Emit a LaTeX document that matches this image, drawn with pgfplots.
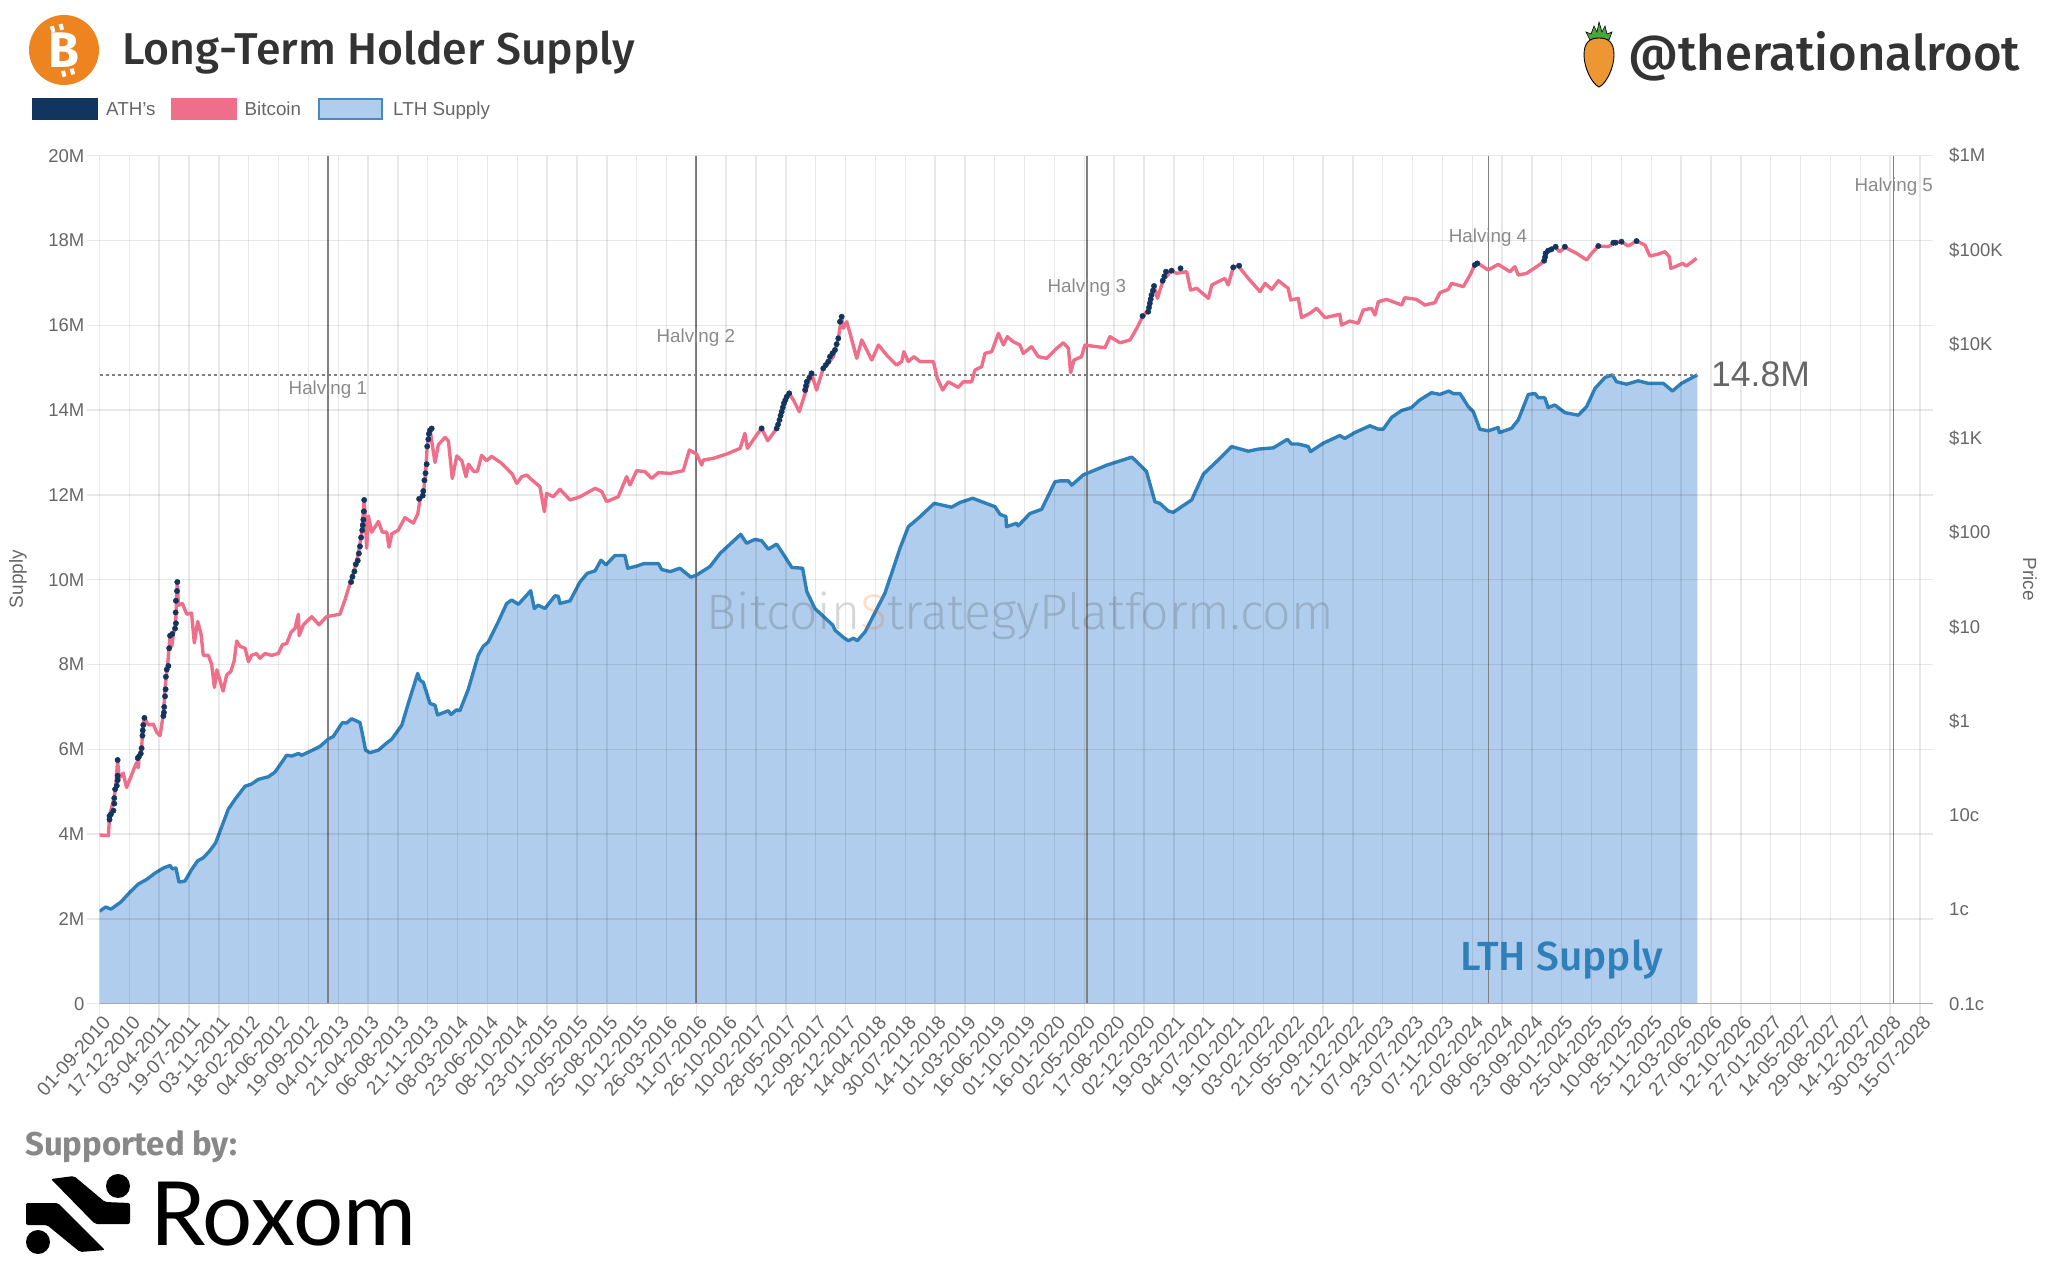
\documentclass[border=0pt]{standalone}
\usepackage{graphicx}
\usepackage{fontspec}
\usepackage{pgfplots}
\usepackage{pgfplotstable}
\pgfplotsset{compat=1.18}
\setmainfont{Liberation Sans}
\newfontfamily\ubm{Fira Sans Medium}
\newfontfamily\ubb{Fira Sans}
\newfontfamily\ubl{Fira Sans Light}
\newfontfamily\rox{Lato}
\definecolor{ath}{HTML}{12355F}
\definecolor{btc}{HTML}{EF6F8A}
\definecolor{lthl}{HTML}{2F7FB8}
\definecolor{lthf}{HTML}{B0CDEE}
\definecolor{tick}{HTML}{666666}
\definecolor{halv}{HTML}{808080}
\definecolor{hlab}{HTML}{8A8A8A}
\definecolor{dark}{HTML}{333333}
\definecolor{btclogo}{HTML}{EE8420}
\definecolor{leaf}{HTML}{4CA53C}
\definecolor{carrot}{HTML}{EC9634}
\definecolor{axln}{HTML}{AAAAAA}
\definecolor{supp}{HTML}{888888}
\pgfplotstableread{
d m
0 2.18
22 2.28
41 2.23
77 2.40
109 2.63
139 2.82
169 2.93
199 3.08
229 3.20
253 3.26
261 3.18
274 3.20
285 2.87
306 2.89
330 3.16
352 3.37
372 3.44
396 3.61
416 3.79
438 4.17
462 4.59
486 4.82
522 5.13
545 5.18
569 5.29
605 5.35
629 5.46
671 5.86
689 5.84
713 5.90
725 5.86
761 5.97
791 6.07
820 6.24
838 6.30
871 6.63
886 6.62
904 6.72
934 6.63
944 6.32
954 5.98
970 5.92
1000 5.98
1030 6.15
1048 6.24
1084 6.57
1107 7.08
1141 7.79
1149 7.63
1161 7.58
1185 7.08
1203 7.04
1212 6.81
1251 6.91
1260 6.82
1280 6.93
1292 6.91
1322 7.41
1358 8.22
1376 8.43
1394 8.53
1430 9.01
1460 9.44
1478 9.52
1502 9.42
1546 9.74
1559 9.32
1573 9.40
1597 9.32
1633 9.62
1645 9.61
1651 9.44
1687 9.50
1723 9.95
1749 10.15
1777 10.21
1798 10.46
1816 10.35
1848 10.57
1884 10.57
1894 10.27
1926 10.32
1952 10.38
2004 10.38
2016 10.24
2046 10.19
2081 10.27
2120 10.06
2141 10.11
2189 10.31
2225 10.62
2299 11.07
2320 10.86
2350 10.95
2374 10.92
2398 10.72
2428 10.84
2458 10.54
2482 10.29
2521 10.27
2536 9.72
2565 9.32
2629 8.93
2637 8.81
2667 8.64
2685 8.56
2703 8.62
2717 8.56
2745 8.77
2816 9.68
2858 10.50
2870 10.74
2900 11.25
2936 11.45
2993 11.80
3055 11.71
3085 11.82
3131 11.92
3211 11.72
3229 11.54
3250 11.49
3252 11.25
3288 11.33
3294 11.27
3336 11.56
3378 11.66
3426 12.31
3444 12.33
3474 12.33
3486 12.23
3527 12.47
3611 12.70
3701 12.89
3713 12.82
3754 12.55
3784 11.84
3802 11.80
3832 11.62
3850 11.59
3916 11.88
3958 12.49
4017 12.86
4059 13.14
4119 13.03
4155 13.08
4209 13.11
4259 13.31
4274 13.20
4298 13.20
4334 13.14
4342 13.02
4388 13.22
4447 13.40
4465 13.33
4501 13.47
4555 13.63
4585 13.55
4603 13.55
4633 13.83
4669 13.99
4704 14.06
4734 14.24
4776 14.41
4806 14.37
4838 14.45
4854 14.39
4878 14.39
4908 14.08
4926 13.96
4949 13.55
4979 13.51
5015 13.59
5019 13.47
5063 13.57
5087 13.77
5123 14.37
5147 14.39
5159 14.29
5182 14.29
5194 14.06
5218 14.12
5254 13.94
5302 13.88
5332 14.08
5362 14.51
5398 14.77
5425 14.83
5439 14.67
5475 14.61
5517 14.69
5553 14.63
5607 14.63
5640 14.45
5672 14.63
5729 14.83
}\lth
\pgfplotstableread{
d p
0 0.0618
32 0.0607
36 0.098
53 0.158
58 0.197
65 0.386
70 0.245
85 0.28
97 0.197
115 0.268
133 0.363
139 0.319
142 0.42
151 0.515
155 0.83
161 1.08
175 0.91
193 0.925
205 0.76
217 0.70
229 1.18
237 2.59
244 3.84
253 8.05
259 6.2
265 8.4
273 10.9
279 29.8
283 16.9
297 17.7
313 13.6
330 14
340 6.76
352 11.4
364 8.4
372 4.98
390 4.98
402 4.0
412 2.27
421 3.5
428 2.95
443 2.08
456 3.08
471 3.36
483 4.37
492 7.06
504 6.2
522 5.93
534 4.26
545 4.98
563 5.2
575 4.64
593 5.2
617 4.98
641 5.2
656 6.47
671 6.65
687 8.79
701 9.6
713 13.6
716 8.05
731 10.5
761 12.8
787 10.5
814 12.8
862 13.6
880 19.3
898 28.6
916 42.3
928 60
940 96.9
949 222
958 68.4
964 150
976 101
1000 131
1014 101
1030 101
1038 70
1048 97
1071 106
1095 144
1125 126
1141 157
1149 222
1161 253
1169 427
1175 822
1185 1273
1191 938
1203 555
1215 859
1239 1023
1251 938
1265 375
1281 650
1299 580
1314 392
1323 532
1341 447
1355 447
1370 661
1388 580
1406 644
1442 543
1478 425
1496 333
1514 392
1532 408
1544 376
1579 307
1595 167
1603 261
1627 240
1651 288
1687 222
1723 240
1777 295
1801 272
1818 213
1860 240
1890 392
1902 320
1926 454
1956 443
1980 376
2004 433
2046 425
2093 454
2115 752
2141 682
2159 521
2165 589
2201 614
2249 682
2297 783
2314 1130
2323 783
2356 1085
2374 1276
2396 944
2422 1205
2428 1276
2452 2168
2473 3006
2488 2553
2509 1919
2530 3006
2553 4898
2571 3258
2595 5534
2613 6252
2631 7362
2649 11510
2661 19540
2667 14720
2679 17300
2691 13010
2715 7063
2733 11070
2769 6780
2793 9795
2822 7674
2858 6000
2876 6516
2884 8318
2900 6516
2920 7362
2942 6516
2990 6516
3004 4335
3023 3258
3043 3983
3079 3476
3097 3983
3127 3983
3139 5309
3163 5754
3175 7980
3199 8318
3223 13010
3241 9795
3255 11990
3276 10620
3300 9795
3312 7980
3342 9397
3366 7362
3396 7063
3432 9016
3456 10350
3474 9016
3482 4977
3494 6780
3521 7362
3533 9795
3557 9550
3605 9162
3623 11990
3659 10350
3695 11070
3719 14720
3740 19540
3760 23010
3781 41400
3793 30620
3814 47970
3844 60250
3862 56400
3898 58750
3912 37500
3934 39100
3976 30620
3988 42460
4035 49890
4047 42460
4065 65310
4083 67450
4119 49890
4161 36060
4179 44160
4203 38110
4227 47100
4262 39100
4271 29380
4298 30620
4310 19100
4340 21230
4364 23990
4394 19100
4447 20700
4453 15960
4483 17580
4513 16630
4531 23010
4561 23990
4573 20370
4585 28180
4615 29850
4669 26000
4680 31120
4722 29850
4752 26000
4788 27540
4806 35160
4836 38110
4848 44160
4890 40740
4914 54100
4931 69180
4943 71950
4979 61240
5015 70310
5057 58750
5075 66370
5087 54100
5117 56400
5170 71950
5182 79430
5191 95720
5218 108100
5236 95720
5254 106400
5296 92040
5332 78160
5350 92040
5374 110000
5410 108100
5433 119400
5457 122200
5481 110000
5511 124200
5541 112700
5559 86100
5589 90360
5613 95720
5628 84720
5634 63680
5655 67450
5676 71950
5690 67450
5726 81280
}\price
\pgfplotstableread{
d p
36 0.0899
36 0.098
41 0.1025
50 0.112
53 0.133
53 0.152
56 0.189
62 0.206
65 0.235
65 0.263
65 0.386
137 0.404
142 0.422
148 0.452
151 0.515
154 0.70
155 0.796
157 0.908
161 1.08
229 1.13
231 1.23
232 1.41
235 1.83
237 2.17
238 2.95
241 3.52
247 3.84
250 5.93
253 8.05
261 8.41
271 9.6
274 10.9
273 14.2
274 18.9
278 24
279 29.9
902 29.9
907 34
914 38.7
919 46.1
926 50.4
930 60
934 71.4
938 88.7
942 106
944 120
946 137
948 168
949 222
1146 228
1159 247
1161 276
1165 359
1169 427
1173 532
1175 822
1179 979
1181 1117
1185 1218
1191 1273
2374 1276
2428 1276
2433 1400
2438 1566
2442 1740
2446 1919
2450 2130
2454 2355
2459 2550
2464 2767
2473 3006
2530 3258
2533 3600
2536 3993
2545 4400
2553 4898
2595 5534
2604 6000
2613 6516
2619 7362
2628 8000
2637 8670
2643 10000
2649 11510
2655 17300
2661 19540
3740 19870
3760 22080
3763 24500
3766 27100
3769 30000
3772 33200
3777 37000
3781 41400
3812 47100
3818 52500
3824 58750
3844 60250
3876 63700
4065 65310
4086 68000
4931 69180
4940 71950
5180 76900
5183 84000
5185 92040
5194 98200
5206 101400
5221 108100
5254 108100
5374 110000
5428 119400
5436 119400
5457 122200
5511 124200
}\athpts
\begin{document}
\begin{tikzpicture}
\path[use as bounding box] (0,0) rectangle (2050pt,1280pt);
\begin{scope}[x=1pt,y=1pt]
% ---------- header
\fill[btclogo] (64,1230) circle (35pt);
\begin{scope}[rotate around={14:(64,1230)}]
\node[text=white,font=\ubb\bfseries\fontsize{50}{50}\selectfont,inner sep=0] at (64,1230) {B};
\fill[white] (56,1250) rectangle (60,1256);
\fill[white] (65,1250) rectangle (69,1256);
\fill[white] (56,1204) rectangle (60,1210);
\fill[white] (65,1204) rectangle (69,1210);
\end{scope}
\node[anchor=base west,inner sep=0,text=dark] at (122,1215.5) {\resizebox{513pt}{!}{\ubm\fontsize{41}{41}\selectfont Long-Term Holder Supply}};
\node[anchor=base west,inner sep=0,text=dark] at (1628,1209) {\resizebox{392pt}{!}{\ubm\fontsize{46}{46}\selectfont @therationalroot}};
% carrot
\fill[fill=leaf,draw=black,line width=.6] (1590,1240) -- (1586,1248) -- (1591,1246) -- (1594,1254) -- (1597,1248) -- (1599,1258) -- (1602,1248) -- (1605,1254) -- (1607,1246) -- (1612,1248) -- (1609,1240) -- cycle;
\fill[fill=carrot,draw=black,line width=.9] (1584,1225) .. controls (1584,1238) and (1590,1242) .. (1599,1242) .. controls (1608,1242) and (1614,1238) .. (1614,1225) .. controls (1614,1212) and (1606,1196) .. (1599,1193) .. controls (1592,1196) and (1584,1212) .. (1584,1225) -- cycle;
% legend
\fill[ath] (32,1160) rectangle (98,1182);
\fill[btc] (170.5,1160) rectangle (236.5,1182);
\fill[lthf,draw=lthl!90!white,line width=2.4] (319,1161) rectangle (382,1181);
\begin{scope}[every node/.style={anchor=base west,inner sep=0,text=tick,font=\fontsize{18.8}{20}\selectfont}]
\node at (106,1164) {ATH's};
\node at (244.5,1164) {Bitcoin};
\node at (393,1164) {LTH Supply};
\end{scope}
\end{scope}
% ---------- supply axis
\begin{axis}[at={(99.5pt,276.3pt)},anchor=south west,scale only axis,width=1833.5pt,height=848pt,
 xmin=0,xmax=6574,ymin=0,ymax=20,
 axis on top,
 axis x line*=bottom,axis y line*=left,
 x axis line style={-,draw=axln,line width=1.5pt},
 y axis line style={draw=none},
 grid=major,
 grid style={black,opacity=.09,line width=1.4pt},
 tick style={black,opacity=.09,line width=1.4pt},
 tick align=outside,major tick length=13pt,
 ytick={0,2,...,20},
 yticklabels={0,2M,4M,6M,8M,10M,12M,14M,16M,18M,20M},
 xtick={0,107,...,6527},
 xticklabels={01-09-2010,17-12-2010,03-04-2011,19-07-2011,03-11-2011,18-02-2012,04-06-2012,19-09-2012,04-01-2013,21-04-2013,06-08-2013,21-11-2013,08-03-2014,23-06-2014,08-10-2014,23-01-2015,10-05-2015,25-08-2015,10-12-2015,26-03-2016,11-07-2016,26-10-2016,10-02-2017,28-05-2017,12-09-2017,28-12-2017,14-04-2018,30-07-2018,14-11-2018,01-03-2019,16-06-2019,01-10-2019,16-01-2020,02-05-2020,17-08-2020,02-12-2020,19-03-2021,04-07-2021,19-10-2021,03-02-2022,21-05-2022,05-09-2022,21-12-2022,07-04-2023,23-07-2023,07-11-2023,22-02-2024,08-06-2024,23-09-2024,08-01-2025,25-04-2025,10-08-2025,25-11-2025,12-03-2026,27-06-2026,12-10-2026,27-01-2027,14-05-2027,29-08-2027,14-12-2027,30-03-2028,15-07-2028},
 every tick label/.style={text=tick,font=\fontsize{18.5}{20}\selectfont},
 xticklabel style={rotate=48,anchor=north east,inner sep=0pt,xshift=3pt,font=\fontsize{19.3}{20}\selectfont},
 yticklabel style={inner sep=0pt,anchor=east,xshift=-2pt},
]
\addplot[fill=lthf,draw=none] table[x=d,y=m] {\lth} \closedcycle;
\addplot[halv,line width=1.5pt,forget plot] coordinates {(819,0)(819,20)};
\addplot[halv,line width=1.5pt,forget plot] coordinates {(2138,0)(2138,20)};
\addplot[halv,line width=1.5pt,forget plot] coordinates {(3540,0)(3540,20)};
\addplot[halv,line width=1.5pt,forget plot] coordinates {(4980,0)(4980,20)};
\addplot[halv,line width=1.5pt,forget plot] coordinates {(6433,0)(6433,20)};
\addplot[lthl,line width=3.4pt,line join=round] table[x=d,y=m] {\lth};
\addplot[halv,line width=2.7pt,dash pattern=on 3pt off 3pt] coordinates {(0,14.83)(5729,14.83)};
\end{axis}
% watermark
\begin{scope}[x=1pt,y=1pt]
\node[anchor=base west,inner sep=0,opacity=.22] at (706.6,650) {\resizebox{627pt}{!}{\ubl\fontsize{50}{50}\selectfont\textcolor{black!75}{Bitcoin}\textcolor{orange!80!red}{S}\textcolor{black!75}{trategyPlatform.com}}};
\end{scope}
% ---------- price axis
\begin{axis}[at={(99.5pt,276.3pt)},anchor=south west,scale only axis,width=1833.5pt,height=848pt,
 xmin=0,xmax=6574,ymode=log,ymin=1e-3,ymax=1e6,
 axis x line=none,axis y line*=right,
 y axis line style={draw=none},
 tick style={draw=none},
 major tick length=0pt,
 ytick={0.001,0.01,0.1,1,10,100,1000,10000,100000,1000000},
 minor ytick={},
 yticklabels={0.1c,1c,10c,\$1,\$10,\$100,\$1K,\$10K,\$100K,\$1M},
 yticklabel style={text=tick,font=\fontsize{18.5}{20}\selectfont,anchor=west,inner sep=0pt,xshift=16pt},
]
\addplot[btc,line width=3.4pt,line join=round] table[x=d,y=p] {\price};
\addplot[only marks,mark=*,mark size=2.7pt,ath,mark options={fill=ath,draw=ath}] table[x=d,y=p] {\athpts};
\end{axis}
% ---------- annotations
\begin{scope}[x=1pt,y=1pt]
\begin{scope}[every node/.style={inner sep=0,text=hlab,font=\fontsize{18.8}{20}\selectfont}]
\node at (327.9,890.5) {Halving 1};
\node at (695.8,942) {Halving 2};
\node at (1086.8,992.5) {Halving 3};
\node at (1488,1042.5) {Halving 4};
\node at (1893.7,1093.5) {Halving 5};
\end{scope}
\node[anchor=west,inner sep=0,text=tick,font=\fontsize{35.5}{36}\selectfont] at (1711,906) {14.8M};
\node[anchor=base west,inner sep=0,text=lthl] at (1460,309.5) {\resizebox{203pt}{!}{\ubm\fontsize{40}{40}\selectfont LTH Supply}};
\node[rotate=90,inner sep=0,text=tick,font=\fontsize{19}{20}\selectfont] at (18,701) {Supply};
\node[rotate=-90,inner sep=0,text=tick,font=\fontsize{19}{20}\selectfont] at (2030,701) {Price};
% ---------- footer
\node[anchor=base west,inner sep=0,text=supp] at (25,125) {\resizebox{212pt}{!}{\ubb\bfseries\fontsize{31}{31}\selectfont Supported by:}};
\fill[black] (118,94) circle (12pt);
\fill[black] (38,38) circle (12pt);
\fill[black,rounded corners=2] (51,101) -- (74,104) -- (105,78) -- (130,77) -- (130,56) -- (95,56) -- cycle;
\fill[black,rounded corners=2] (26,77) -- (58,77) -- (105,30) -- (80,28) -- (47,55) -- (26,55) -- cycle;
\node[anchor=base west,inner sep=0,text=black] at (150,35) {\resizebox{266pt}{!}{\rox\fontsize{88}{88}\selectfont Roxom}};
\end{scope}
\end{tikzpicture}
\end{document}
